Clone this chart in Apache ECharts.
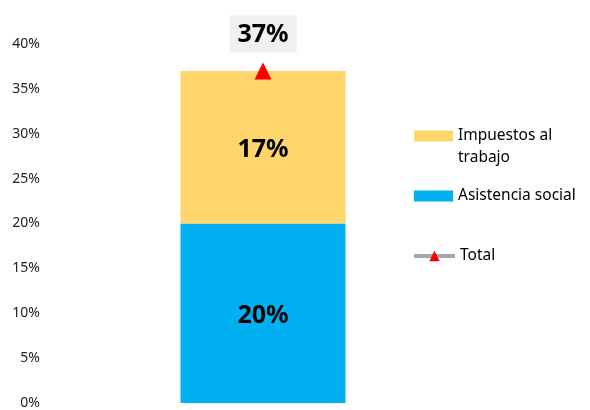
<!DOCTYPE html>
<html><head><meta charset="utf-8">
<script src="https://cdn.jsdelivr.net/npm/echarts@6/dist/echarts.min.js"></script>
<style>html,body{margin:0;padding:0;background:#fff}#c{width:590px;height:410px}</style>
</head><body><div id="c"></div>
<script>
var categories = ['Total'];
var asistenciaSocial = [20];
var impuestosTrabajo = [17];
var total = [37];
var yTicks = [0, 5, 10, 15, 20, 25, 30, 35, 40];

var FONT = 'Noto Sans';
var chart = echarts.init(document.getElementById('c'), null, {renderer: 'canvas'});
var bigLabel = {show: true, position: 'inside', offset: [0, 3], fontFamily: FONT, fontSize: 25, fontWeight: 'bold', color: '#000',
  formatter: function (p) { return p.value + '%'; }};
chart.setOption({
  animation: false,
  textStyle: {fontFamily: FONT},
  grid: {left: 50, top: 44, width: 426, height: 360, containLabel: false},
  legend: [
    {orient: 'vertical', left: 414, top: 103, padding: 0, itemWidth: 39, itemHeight: 11, itemGap: 4,
     textStyle: {fontFamily: FONT, fontSize: 15.5, color: '#000', lineHeight: 22},
     formatter: function (n) { return ' \n' + n; },
     data: [{name: 'Impuestos al\ntrabajo', icon: 'rect'}]},
    {orient: 'vertical', left: 414, top: 185, padding: 0, itemWidth: 39, itemHeight: 11, itemGap: 4,
     textStyle: {fontFamily: FONT, fontSize: 15.5, color: '#000', lineHeight: 22},
     data: [{name: 'Asistencia social', icon: 'rect'}]},
    {orient: 'vertical', left: 412, top: 245, padding: 0, itemWidth: 41, itemHeight: 13, itemGap: 4,
     textStyle: {fontFamily: FONT, fontSize: 15.5, color: '#000', lineHeight: 22},
     data: [{name: 'Total', lineStyle: {width: 4, color: '#A6A6A6'}}]}
  ],
  xAxis: {type: 'category', data: categories, axisLine: {show: false}, axisTick: {show: false}, axisLabel: {show: false}},
  yAxis: {type: 'value', min: yTicks[0], max: yTicks[yTicks.length - 1], interval: 5,
    splitLine: {show: false}, axisLine: {show: false}, axisTick: {show: false},
    axisLabel: {fontFamily: FONT, fontSize: 14, color: '#222', margin: 10, formatter: '{value}%'}},
  series: [
    {name: 'Asistencia social', type: 'bar', stack: 's', barWidth: 165, data: asistenciaSocial,
     itemStyle: {color: '#00B0F0'}, label: bigLabel},
    {name: 'Impuestos al\ntrabajo', type: 'bar', stack: 's', barWidth: 165, data: impuestosTrabajo,
     itemStyle: {color: '#FED66B'}, label: bigLabel},
    {name: 'Total', type: 'line', data: total, symbol: 'triangle', symbolSize: [17, 17], z: 5,
     itemStyle: {color: '#FF0000'}, lineStyle: {color: '#A6A6A6', width: 4},
     label: {show: true, position: 'top', distance: 10, fontFamily: FONT, fontSize: 25, fontWeight: 'bold', color: '#000',
       backgroundColor: '#F0F0F0', padding: [7, 8, 5, 8], formatter: function (p) { return p.value + '%'; }}}
  ]
});
</script></body></html>
